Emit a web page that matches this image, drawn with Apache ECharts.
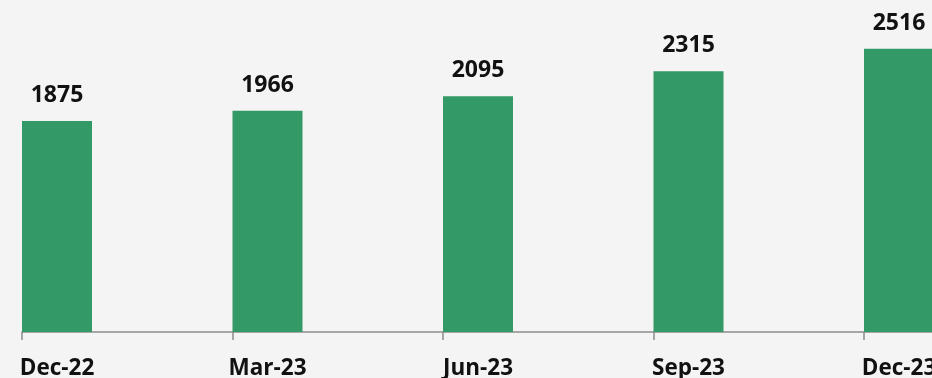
<!DOCTYPE html>
<html>
<head>
<meta charset="utf-8">
<script src="https://cdn.jsdelivr.net/npm/echarts@6/dist/echarts.min.js"></script>
<style>
  html, body { margin: 0; padding: 0; background: #f4f4f4; }
  #chart { width: 932px; height: 378px; }
</style>
</head>
<body>
<div id="chart"></div>
<script>
// Quarter-end totals
const quarters = ['Dec-22', 'Mar-23', 'Jun-23', 'Sep-23', 'Dec-23'];
const totals = [1875, 1966, 2095, 2315, 2516];

const FONT = '"Open Sans", "Liberation Sans", sans-serif';
const BAND = 210.5;          // width of one category slot
const BAR_W = 70;
const BASE_Y = 332;          // pixel row of the baseline
const FIRST_CENTER = 57;     // centre of the first bar

const chart = echarts.init(document.getElementById('chart'), null, { renderer: 'canvas' });

const gridBase = {
  width: BAND * quarters.length, top: 10, bottom: 378 - BASE_Y,
  containLabel: false, outerBoundsMode: 'none'
};

chart.setOption({
  backgroundColor: '#f4f4f4',
  animation: false,
  grid: [
    // bars and category labels, slots centred on each bar
    Object.assign({ left: FIRST_CENTER - BAND / 2 }, gridBase),
    // baseline and tick marks, slots starting at each bar's left edge
    Object.assign({ left: FIRST_CENTER - BAR_W / 2 }, gridBase)
  ],
  xAxis: [
    {
      type: 'category', gridIndex: 0, data: quarters,
      axisLine: { show: false }, axisTick: { show: false },
      axisLabel: { color: '#111', fontFamily: FONT, fontWeight: 'bold', fontSize: 22.5, margin: 25 }
    },
    {
      type: 'category', gridIndex: 1, data: quarters,
      axisLine: { show: true, lineStyle: { color: '#8c8c8c', width: 1.5 } },
      axisTick: { show: true, length: 8, lineStyle: { color: '#8c8c8c', width: 1.5 } },
      axisLabel: { show: false }
    }
  ],
  yAxis: [
    { type: 'value', gridIndex: 0, min: 0, max: 2860, show: false, splitLine: { show: false } },
    { type: 'value', gridIndex: 1, min: 0, max: 2860, show: false, splitLine: { show: false } }
  ],
  series: [
    {
      type: 'bar', xAxisIndex: 0, yAxisIndex: 0,
      data: totals, barWidth: BAR_W,
      itemStyle: { color: '#339966' },
      label: {
        show: true, position: 'top', distance: 14,
        color: '#111', fontFamily: FONT, fontWeight: 'bold', fontSize: 23
      }
    }
  ]
});
</script>
</body>
</html>
